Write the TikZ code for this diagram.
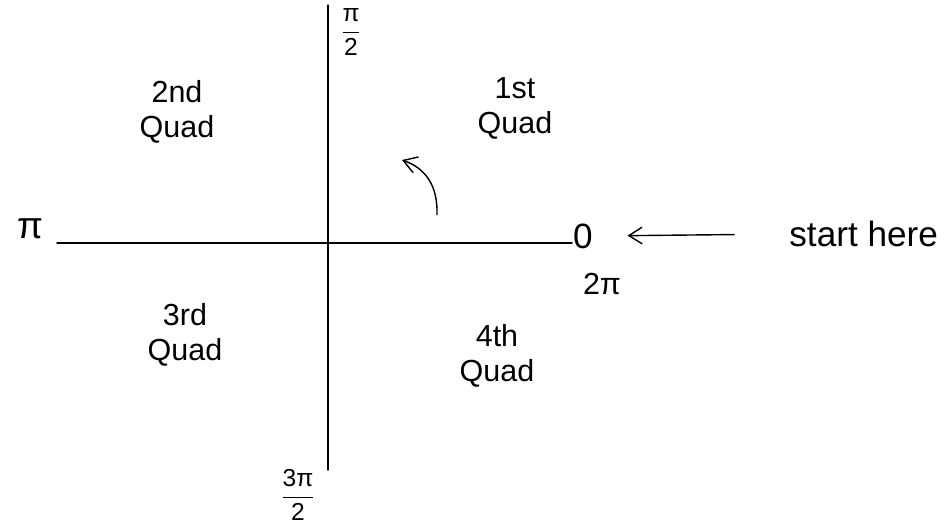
\RequirePackage{fix-cm}
\documentclass[tikz,border=0pt]{standalone}
\usepackage{fontspec}
\setmainfont{Liberation Sans}
\usetikzlibrary{arrows.meta, positioning}

\begin{document}
\begin{tikzpicture}[
  x=0.03cm, y=-0.03cm,
  axis/.style = {line width=1.2pt, line cap=round},
  lbl/.style = {font=\fontsize{26}{30}\selectfont, inner sep=1pt},
  big/.style = {font=\fontsize{32}{36}\selectfont, inner sep=1pt},
  frac/.style = {font=\fontsize{21}{25}\selectfont, inner sep=1pt},
  quad/.style = {lbl, align=center},
  arrow/.style = {-{Straight Barb[length=4mm, width=5mm]}, line width=1.2pt}
]
\useasboundingbox (0,0) rectangle (946,530);

% ====== AXES ======
\coordinate (west) at (57,243);
\coordinate (east) at (572,243);
\coordinate (north) at (328,5);
\coordinate (south) at (328,470);
\draw[axis] (west) -- (east);
\draw[axis] (north) -- (south);

% ====== ANGLE LABELS ======
\node[big] (pi) at (30,229) {π};
\node[frac] (half) at (351,32) {$\displaystyle\frac{\mbox{π}}{\mbox{2}}$};
\node[frac] (threehalf) at (298,495) {$\displaystyle\frac{\mbox{3π}}{\mbox{2}}$};
\node[big, font=\fontsize{30}{34}\selectfont] (zero) at (583,236) {0};
\node[lbl] (twopi) at (602,284) {2π};

% ====== QUADRANTS ======
\node[quad] (q1) at (515,108) {1st\\Quad};
\node[quad] (q2) at (177,112) {2nd\\Quad};
\node[quad] (q3) at (185,335) {3rd\\Quad};
\node[quad] (q4) at (497,356) {4th\\Quad};

% ====== START ======
\node[big, font=\fontsize{30}{34}\selectfont, anchor=west] (start) at (788,234) {start here};
\draw[arrow, shorten <=1.6cm, shorten >=1cm] (start.west) -- (zero.east);

% direction of rotation
\coordinate (rotA) at (437,215);
\coordinate (rotB) at (402,160);
\draw[arrow] (rotA) .. controls (438,185) and (425,168) .. (rotB);

\end{tikzpicture}
\end{document}
